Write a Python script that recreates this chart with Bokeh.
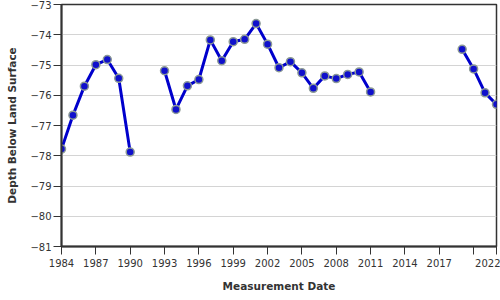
import math
from bokeh.plotting import figure
from bokeh.models import FixedTicker, Range1d, ColumnDataSource
from bokeh.embed import file_html
from bokeh.resources import INLINE

years = [1984, 1985, 1986, 1987, 1988, 1989, 1990, 1991, 1992,
         1993, 1994, 1995, 1996, 1997, 1998, 1999, 2000, 2001, 2002,
         2003, 2004, 2005, 2006, 2007, 2008, 2009, 2010, 2011,
         2012, 2019, 2020, 2021, 2022]
nan = float("nan")
depth = [-77.78, -76.66, -75.70, -74.99, -74.82, -75.44, -77.88, nan, nan,
         -75.19, -76.47, -75.69, -75.48, -74.17, -74.86, -74.23, -74.15, -73.63, -74.31,
         -75.09, -74.89, -75.26, -75.77, -75.36, -75.45, -75.31, -75.23, -75.89,
         nan, -74.48, -75.13, -75.92, -76.30]
x_ticks = [1984, 1987, 1990, 1993, 1996, 1999, 2002, 2005, 2008, 2011, 2014, 2017, 2020, 2022]
y_ticks = [-81, -80, -79, -78, -77, -76, -75, -74, -73]

src = ColumnDataSource(dict(x=years, y=depth))
pts = ColumnDataSource(dict(x=[a for a, b in zip(years, depth) if not math.isnan(b)],
                            y=[b for b in depth if not math.isnan(b)]))

p = figure(width=500, height=300, output_backend="svg", toolbar_location=None,
           x_range=Range1d(1984, 2022), y_range=Range1d(-81, -73),
           min_border_left=61, min_border_right=4, min_border_top=4, min_border_bottom=54)
p.background_fill_color = "white"
p.border_fill_color = "white"
p.outline_line_color = "#333333"
p.outline_line_width = 1.5

p.line("x", "y", source=src, line_color="#0000cc", line_width=3)
p.scatter("x", "y", source=pts, size=8, fill_color="#1010cc",
          line_color="#8c9a96", line_width=1.5)

p.xaxis.ticker = FixedTicker(ticks=x_ticks)
p.xaxis.major_label_overrides = {2020: ""}
p.yaxis.ticker = FixedTicker(ticks=y_ticks)
p.xaxis.minor_tick_line_color = None
p.yaxis.minor_tick_line_color = None
for ax in (p.xaxis, p.yaxis):
    ax.axis_line_color = "#333333"
    ax.axis_line_width = 2
    ax.major_tick_line_color = "#333333"
    ax.major_tick_line_width = 1
    ax.major_tick_out = 8
    ax.major_tick_in = 0
    ax.major_label_text_font = "DejaVu Sans"
    ax.major_label_text_font_size = "10px"
    ax.major_label_text_color = "#333333"
    ax.axis_label_text_font = "DejaVu Sans"
    ax.axis_label_text_font_size = "10.5px"
    ax.axis_label_text_font_style = "bold"
    ax.axis_label_text_color = "#333333"
p.xaxis.axis_label = "Measurement Date"
p.yaxis.axis_label = "Depth Below Land Surface"
p.xaxis.major_label_standoff = 4
p.yaxis.major_label_standoff = 2
p.xaxis.axis_label_standoff = 10
p.yaxis.axis_label_standoff = 9

p.xgrid.grid_line_color = None
p.ygrid.grid_line_color = "#d4d4d4"
p.ygrid.grid_line_width = 1

open("out.html", "w").write(file_html(p, INLINE))
